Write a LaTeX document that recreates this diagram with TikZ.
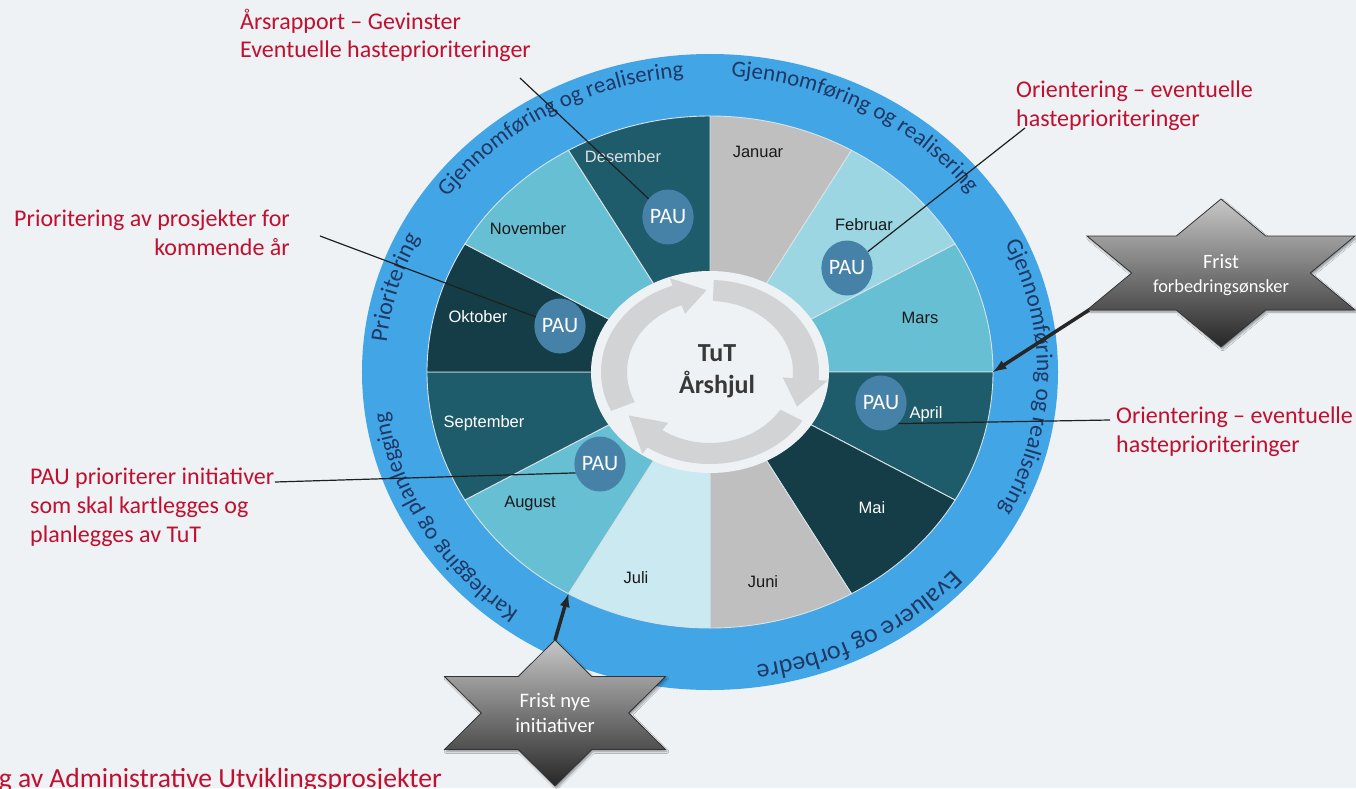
\documentclass[tikz,border=0pt]{standalone}
\usepackage{tikz}
\usepackage{xcolor}
\usepackage{fontspec}
\setmainfont{Carlito}
\newfontfamily\arialfont{Liberation Sans}
\usetikzlibrary{shapes.geometric, decorations.text, shadows.blur}

\definecolor{bg}{HTML}{EEF2F5}
\definecolor{ringblue}{HTML}{42A5E6}
\definecolor{ringtext}{HTML}{1F3864}
\definecolor{redtext}{HTML}{C00F2F}
\definecolor{grey1}{HTML}{BFBFBF}
\definecolor{teal0}{HTML}{CAE9F1}
\definecolor{teal1}{HTML}{9BD6E2}
\definecolor{teal2}{HTML}{67BFD3}
\definecolor{teal3}{HTML}{1F5C6B}
\definecolor{teal4}{HTML}{153D48}
\definecolor{paublue}{HTML}{4682A8}
\definecolor{arrowgrey}{HTML}{D2D3D5}
\definecolor{segline}{HTML}{D8E3E7}

\begin{document}
\begin{tikzpicture}[x=1pt, y=1pt,
	seg/.style={draw=segline, line width=0.9pt},
	month/.style={font=\arialfont\fontsize{16.5}{18}\selectfont, inner sep=0pt, text=black!90},
	pau/.style={ellipse, fill=paublue, minimum width=48pt, minimum height=55pt, inner sep=0pt, text=white, font=\fontsize{22}{22}\selectfont},
	redlbl/.style={text=redtext, font=\fontsize{24}{29}\selectfont, inner sep=0pt},
	leader/.style={draw=black!88, line width=1.2pt},
	ringlbl/.style={decorate, decoration={text along path, text align=center, text color=ringtext}},
	cyclearrow/.style={fill=arrowgrey},
	frist/.style={draw=black!80, line width=0.8pt, top color=black!22, bottom color=black!85, blur shadow={shadow xshift=1.5pt, shadow yshift=-2pt, shadow blur steps=6}},
	fristtxt/.style={text=white, align=center, inner sep=0pt},
	deadline/.style={draw=black!85, line width=3.5pt, -latex}]
				\fill[bg] (-710,-416) rectangle (646,372);
				\useasboundingbox (-710,-416) rectangle (646,372);
				
				\coordinate (O) at (0,0);
				\fill[ringblue] (O) ellipse [x radius=348, y radius=318];
				
				\fill[grey1, seg] (O) -- (90:283 and 256) arc[start angle=90, end angle=60, x radius=283, y radius=256] -- cycle;
				\fill[teal1, seg] (O) -- (60:283 and 256) arc[start angle=60, end angle=30, x radius=283, y radius=256] -- cycle;
				\fill[teal2, seg] (O) -- (30:283 and 256) arc[start angle=30, end angle=0, x radius=283, y radius=256] -- cycle;
				\fill[teal3, seg] (O) -- (0:283 and 256) arc[start angle=0, end angle=-30, x radius=283, y radius=256] -- cycle;
				\fill[teal4, seg] (O) -- (-30:283 and 256) arc[start angle=-30, end angle=-60, x radius=283, y radius=256] -- cycle;
				\fill[grey1, seg] (O) -- (-60:283 and 256) arc[start angle=-60, end angle=-90, x radius=283, y radius=256] -- cycle;
				\fill[teal0, seg] (O) -- (-90:283 and 256) arc[start angle=-90, end angle=-120, x radius=283, y radius=256] -- cycle;
				\fill[teal2, seg] (O) -- (-120:283 and 256) arc[start angle=-120, end angle=-150, x radius=283, y radius=256] -- cycle;
				\fill[teal3, seg] (O) -- (-150:283 and 256) arc[start angle=-150, end angle=-180, x radius=283, y radius=256] -- cycle;
				\fill[teal4, seg] (O) -- (180:283 and 256) arc[start angle=180, end angle=150, x radius=283, y radius=256] -- cycle;
				\fill[teal2, seg] (O) -- (150:283 and 256) arc[start angle=150, end angle=120, x radius=283, y radius=256] -- cycle;
				\fill[teal3, seg] (O) -- (120:283 and 256) arc[start angle=120, end angle=90, x radius=283, y radius=256] -- cycle;
				
				\path[ringlbl, decoration={text={|\fontsize{23}{23}\selectfont|Gjennomføring og realisering}}] (165:325 and 296) arc[start angle=165, end angle=75, x radius=325, y radius=296];
				\path[ringlbl, decoration={text={|\fontsize{23}{23}\selectfont|Gjennomføring og realisering}}] (106:325 and 296) arc[start angle=106, end angle=16, x radius=325, y radius=296];
				\path[ringlbl, decoration={text={|\fontsize{23.5}{23.5}\selectfont|Gjennomføring og realisering}}] (44:327 and 296) arc[start angle=44, end angle=-46, x radius=327, y radius=296];
				\path[ringlbl, decoration={text={|\fontsize{26}{26}\selectfont|Evaluere og forbedre}}] (-16:325 and 296) arc[start angle=-16, end angle=-106, x radius=325, y radius=296];
				\path[ringlbl, decoration={text={|\fontsize{23}{23}\selectfont|Kartlegging og planlegging}}] (255:325 and 296) arc[start angle=255, end angle=165, x radius=325, y radius=296];
				\path[ringlbl, decoration={text={|\fontsize{24}{24}\selectfont|Prioritering}}] (194:325 and 296) arc[start angle=194, end angle=134, x radius=325, y radius=296];
				
				\fill[bg] (O) ellipse [x radius=119, y radius=101];
				\fill[cyclearrow] (205:109 and 92) arc[start angle=205, end angle=110, x radius=109, y radius=92] -- (110:118 and 100) -- (92:96 and 82) -- (110:73 and 62) -- (110:83 and 71) arc[start angle=110, end angle=205, x radius=83, y radius=71] -- cycle;
				\fill[cyclearrow] (88:109 and 92) arc[start angle=88, end angle=-5, x radius=109, y radius=92] -- (-5:118 and 100) -- (-25:96 and 82) -- (-5:73 and 62) -- (-5:83 and 71) arc[start angle=-5, end angle=88, x radius=83, y radius=71] -- cycle;
				\fill[cyclearrow] (-32:109 and 92) arc[start angle=-32, end angle=-125, x radius=109, y radius=92] -- (-125:118 and 100) -- (-148:96 and 82) -- (-125:73 and 62) -- (-125:83 and 71) arc[start angle=-125, end angle=-32, x radius=83, y radius=71] -- cycle;
				\node (Hjul) at (7,1) [align=center, text=black!78, font=\bfseries\fontsize{26}{32}\selectfont] {TuT\\Årshjul};
				
				\node (Jan) at (48,220) [month] {Januar};
				\node (Feb) at (154,147) [month] {Februar};
				\node (Mar) at (210,54) [month] {Mars};
				\node (Apr) at (216,-42) [month, text=white] {April};
				\node (Mai) at (162,-136) [month, text=white] {Mai};
				\node (Jun) at (53,-210) [month] {Juni};
				\node (Jul) at (-74,-206) [month] {Juli};
				\node (Aug) at (-180,-132) [month] {August};
				\node (Sep) at (-226,-51) [month, text=white] {September};
				\node (Okt) at (-232,55) [month, text=white] {Oktober};
				\node (Nov) at (-182,143) [month] {November};
				\node (Des) at (-87,215) [month, text=white!88!black] {Desember};
				
				\node (P1) at (-42,155) [pau] {PAU};
				\node (P2) at (137,104) [pau] {PAU};
				\node (P3) at (-150,46) [pau] {PAU};
				\node (P4) at (171,-31) [pau] {PAU};
				\node (P5) at (-110,-92) [pau] {PAU};
				
				\node (L1) at (-470,314) [anchor=base west, align=left, redlbl] {Årsrapport – Gevinster\\Eventuelle hasteprioriteringer};
				\node (L2) at (306,246) [anchor=base west, align=left, redlbl] {Orientering – eventuelle\\hasteprioriteringer};
				\node (L3) at (-420,117) [anchor=base east, align=right, redlbl] {Prioritering av prosjekter for\\kommende år};
				\node (L4) at (406,-80) [anchor=base west, align=left, redlbl] {Orientering – eventuelle\\hasteprioriteringer};
				\node (L5) at (-680,-170) [anchor=base west, align=left, redlbl] {PAU prioriterer initiativer\\som skal kartlegges og\\planlegges av TuT};
				\node (L6) at (-268,-415) [anchor=base east, text=redtext, font=\fontsize{27.6}{33}\selectfont, inner sep=0pt] {g av Administrative Utviklingsprosjekter};
				
				\coordinate (A1) at (-190,294);
				\coordinate (A2) at (315,244);
				\coordinate (A3) at (-390,136);
				\coordinate (A4) at (400,-48);
				\coordinate (A5) at (-435,-110);
				\draw[leader] (A1) -- (P1);
				\draw[leader] (A2) -- (P2);
				\draw[leader] (A3) -- (P3);
				\draw[leader] (A4) -- (P4.-50);
				\draw[leader] (A5) -- (P5.200);
				
				\path[frist, shift={(511,99)}] (0,74) -- (-44.7,37) -- (-134,37) -- (-89.3,0) -- (-134,-37) -- (-44.7,-37) -- (0,-74) -- (44.7,-37) -- (134,-37) -- (89.3,0) -- (134,37) -- (44.7,37) -- cycle;
				\path[frist, shift={(-155,-341)}] (0,73) -- (-36.8,36.5) -- (-110.5,36.5) -- (-73.7,0) -- (-110.5,-36.5) -- (-36.8,-36.5) -- (0,-73) -- (36.8,-36.5) -- (110.5,-36.5) -- (73.7,0) -- (110.5,36.5) -- (36.8,36.5) -- cycle;
				\node (F1) at (511,80) [anchor=base, fristtxt, font=\fontsize{18.4}{24}\selectfont] {{\fontsize{20.4}{24}\selectfont Frist}\\forbedringsønsker};
				\node (F2) at (-155,-360) [anchor=base, fristtxt, font=\fontsize{20.6}{25}\selectfont] {Frist nye\\initiativer};
				
				\coordinate (B1) at (379,62);
				\coordinate (E1) at (0:283 and 256);
				\coordinate (B2) at (-155,-268);
				\coordinate (E2) at (-120:283 and 256);
				\draw[deadline] (B1) -- (E1);
				\draw[deadline] (B2) -- (E2);
			\end{tikzpicture}
\end{document}
